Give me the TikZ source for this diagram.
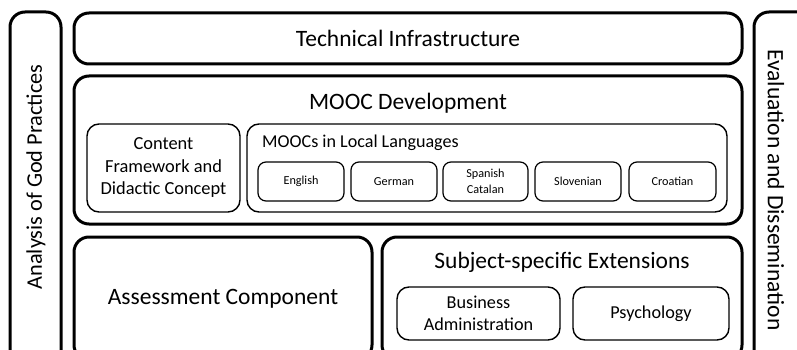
\documentclass[tikz,border=0pt]{standalone}
\usepackage{fontspec}
\setmainfont{Carlito}

\begin{document}
\begin{tikzpicture}[x=1pt,y=-1pt,
  outerbox/.style={draw,line width=3pt,rounded corners=15pt,inner sep=0pt},
  innerbox/.style={draw,line width=1.4pt,rounded corners=12pt,inner sep=0pt,align=center},
  langbox/.style={draw,line width=1.2pt,rounded corners=8pt,inner sep=0pt,align=center,
    minimum height=39pt,font=\fontsize{12.2}{16}\selectfont},
  bigtext/.style={font=\fontsize{23.5}{28}\selectfont}]
  \useasboundingbox (0,0) rectangle (797,350);
  \clip (0,0) rectangle (797,350);

  % side bars
  \node[outerbox,minimum width=51pt,minimum height=380pt] (leftbar) at (35.5,202) {};
  \node[rotate=90,font=\fontsize{22.3}{27}\selectfont] (leftlabel) at (36,177) {Analysis of God Practices};
  \node[outerbox,minimum width=60pt,minimum height=380pt] (rightbar) at (784,202) {};
  \node[rotate=-90,bigtext] (rightlabel) at (776,190) {Evaluation and Dissemination};

  % top rows
  \node[outerbox,bigtext,minimum width=668pt,minimum height=51pt]
    (tech) at (408,38.5) {Technical Infrastructure};
  \node[outerbox,minimum width=668pt,minimum height=148pt] (mooc) at (408,150) {};
  \node[bigtext] (mooclabel) at (408,103) {MOOC Development};

  \node[innerbox,minimum width=153pt,minimum height=88pt,font=\fontsize{18.4}{22.5}\selectfont]
    (content) at (163.5,168) {Content\\Framework and\\Didactic Concept};
  \node[innerbox,minimum width=480pt,minimum height=88pt] (local) at (487,168) {};
  \node[anchor=west,inner sep=0pt,font=\fontsize{18.1}{22}\selectfont] (locallabel) at (262,143) {MOOCs in Local Languages};

  \node[langbox,minimum width=86pt] (english) at (301,181.5) {English};
  \node[langbox,minimum width=86pt] (german) at (394,181.5) {German};
  \node[langbox,minimum width=85pt] (spanish) at (485.5,181.5) {Spanish\\Catalan};
  \node[langbox,minimum width=86pt] (slovenian) at (578,181.5) {Slovenian};
  \node[langbox,minimum width=87pt] (croatian) at (672.5,181.5) {Croatian};

  % bottom row
  \node[outerbox,bigtext,minimum width=298pt,minimum height=123pt]
    (assess) at (223,298.5) {Assessment Component};
  \node[outerbox,minimum width=360pt,minimum height=123pt] (subject) at (562,298.5) {};
  \node[bigtext] (subjectlabel) at (562,262) {Subject-specific Extensions};

  \node[innerbox,minimum width=163pt,minimum height=53pt,font=\fontsize{18.2}{22}\selectfont]
    (business) at (478.5,313.5) {Business\\Administration};
  \node[innerbox,minimum width=156pt,minimum height=53pt,font=\fontsize{18.2}{22}\selectfont]
    (psych) at (651,313.5) {Psychology};
\end{tikzpicture}
\end{document}
